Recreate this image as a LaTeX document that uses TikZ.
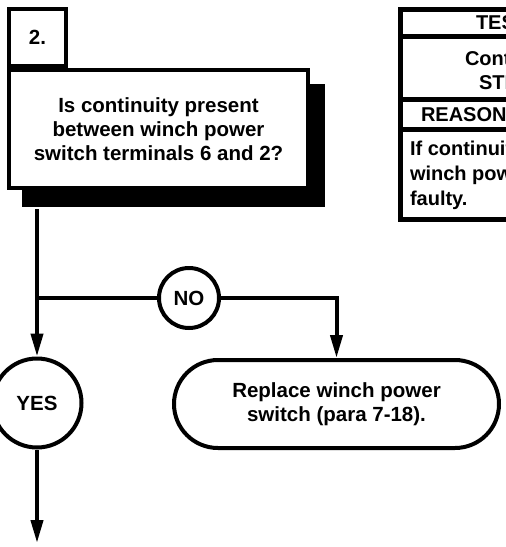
\documentclass[tikz,border=0pt]{standalone}
\usepackage{fontspec}
\setmainfont{Liberation Sans}
\usetikzlibrary{arrows.meta}
\begin{document}
\begin{tikzpicture}[x=1pt,y=-1pt,
  line width=4pt,
  lbl/.style={font=\fontsize{20.5}{24}\selectfont\bfseries, align=center},
  boxed/.style={draw, fill=white, lbl, inner sep=0pt},
  roundnode/.style={draw, circle, fill=white, lbl, inner sep=0pt},
  flow/.style={-{Triangle[length=23pt,width=12pt]}},
  tabtext/.style={font=\fontsize{20}{24}\selectfont\bfseries, anchor=base west, inner sep=0pt},
]
\clip (0,0) rectangle (506,547);

% step number and question with its drop shadow
\node[fill=black, minimum width=303pt, minimum height=123pt, inner sep=0pt] (qshadow) at (173.5,145.5) {};
\node[boxed, minimum width=299pt, minimum height=118pt] (q) at (158.5,129)
  {Is continuity present\\between winch power\\switch terminals 6 and 2?};
\node[boxed, minimum width=57pt, minimum height=57pt] (num) at (37.5,37.5) {2.};

% answers
\node[roundnode, minimum size=89pt] (yes) at (37,403) {YES};
\node[roundnode, minimum size=60pt] (no) at (189,298) {NO};
\node[boxed, rounded corners=44pt, minimum width=325pt, minimum height=88pt] (replace) at (336.5,404)
  {Replace winch power\\switch (para 7-18).};

% connectors
\coordinate (split) at (yes |- no);
\coordinate (exit) at (37,543);
\draw[flow] (qshadow.south -| yes.north) -- (yes.north);
\draw (split) -- (no.west);
\draw[flow] (no.east) -| (replace.north);
\draw[flow] (yes.south) -- (exit);

% side table
\begin{scope}[line width=5pt]
  \draw (400.5,9.5) rectangle (700,219.5);
  \draw (398,36) -- (700,36);
  \draw (398,99) -- (700,99);
  \draw (398,129) -- (700,129);
\end{scope}
\node[tabtext] (t1) at (474,29) {TEST};
\node[tabtext] (t2) at (463,65) {Continuity};
\node[tabtext] (t3) at (477,89) {STEP};
\node[tabtext] (t4) at (419,121) {REASON};
\node[tabtext] (t5) at (408,155) {If continuity};
\node[tabtext] (t6) at (408,180) {winch power};
\node[tabtext] (t7) at (408,205) {faulty.};
\end{tikzpicture}
\end{document}
